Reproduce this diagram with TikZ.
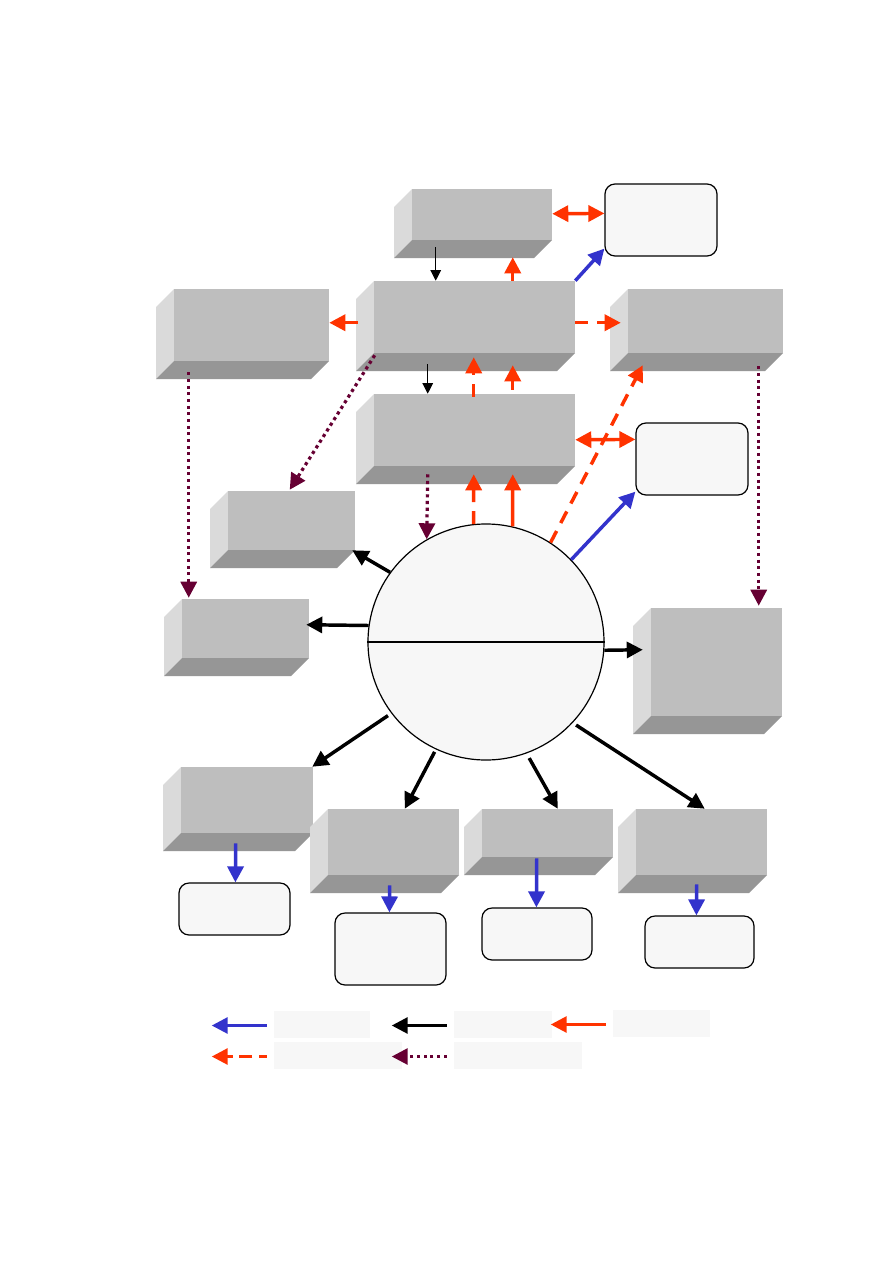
\documentclass[tikz,border=0pt]{standalone}
\usetikzlibrary{arrows.meta,calc,fit}
\definecolor{frontc}{HTML}{BEBEBE}
\definecolor{leftc}{HTML}{DADADA}
\definecolor{botc}{HTML}{969696}
\definecolor{paper}{HTML}{F7F7F7}
\definecolor{blu}{HTML}{3333CC}
\definecolor{rd}{HTML}{FF3300}
\definecolor{pu}{HTML}{660033}
\newcommand{\bevbox}[5]{%
 \fill[leftc] (#2,#3+18) -- (#2+18,#3) -- (#2+18,#5-18) -- (#2,#5) -- cycle;
 \fill[botc] (#2,#5) -- (#2+18,#5-18) -- (#4,#5-18) -- (#4-18,#5) -- cycle;
 \fill[frontc] (#2+18,#3) rectangle (#4,#5-18);
 \coordinate (#1-nw) at (#2,#3); \coordinate (#1-se) at (#4,#5);
 \node[fit=(#1-nw)(#1-se), inner sep=0pt] (#1) {};}
\newcommand{\rbox}[5]{%
 \coordinate (#1-nw) at (#2,#3); \coordinate (#1-se) at (#4,#5);
 \node[fit=(#1-nw)(#1-se), inner sep=0pt, draw=black, line width=0.9pt, fill=paper, rounded corners=7.5pt] (#1) {};}
\newcommand{\legrect}[5]{%
 \coordinate (#1-nw) at (#2,#3); \coordinate (#1-se) at (#4,#5);
 \node[fit=(#1-nw)(#1-se), inner sep=0pt, fill=paper] (#1) {};}
\tikzset{
 bigtip/.style={-{Triangle[length=12pt,width=12pt]}},
 dbltip/.style={{Triangle[length=12pt,width=12pt]}-{Triangle[length=12pt,width=12pt]}},
 thinarr/.style={black, line width=0.8pt, -{Triangle[length=8pt,width=8pt]}},
 blkarr/.style={black, line width=2.6pt, bigtip},
 bluarr/.style={blu, line width=2.6pt, bigtip},
 redarr/.style={rd, line width=2.6pt, bigtip},
 reddbl/.style={rd, line width=2.6pt, dbltip},
 reddash/.style={rd, line width=2.6pt, bigtip, dash pattern=on 9.75pt off 6.75pt},
 purdot/.style={pu, line width=2.4pt, bigtip, dash pattern=on 2.4pt off 2.6pt},
}
\begin{document}
\begin{tikzpicture}[x=0.75pt,y=-0.75pt]
\useasboundingbox[fill=white] (0,0) rectangle (893,1263);
% 3D boxes
\bevbox{b1}{394}{189}{552}{258}
\bevbox{b2}{356}{281}{575}{371}
\bevbox{b3}{156}{289}{329}{379}
\bevbox{b4}{610}{289}{783}{371}
\bevbox{b5}{356}{394}{575}{484}
\bevbox{b6}{210}{491}{355}{568}
\bevbox{b7}{164}{599}{309}{676}
\bevbox{b8}{633}{608}{782}{734}
\bevbox{b9}{163}{767}{313}{851}
\bevbox{b10}{310}{809}{459}{893}
\bevbox{b11}{464}{809}{613}{875}
\bevbox{b12}{618}{809}{767}{893}
% rounded boxes
\rbox{r1}{605}{184}{717}{256}
\rbox{r2}{636}{423}{748}{495}
\rbox{r3}{179}{883}{290}{935}
\rbox{r4}{335}{913}{446}{985}
\rbox{r5}{482}{908}{592}{960}
\rbox{r6}{645}{916}{754}{968}
% circle
\node[circle, draw=black, line width=0.9pt, fill=paper, minimum size=177pt, inner sep=0pt] (c) at (486,642) {};
\draw[black, line width=0.9pt] (c.west) -- (c.east);
% connectors
\draw[thinarr] ($(b1.south west)+(42,-11)$) -- ($(b2.north west)+(80,0)$);
\draw[redarr] ($(b2.north west)+(157,0)$) -- ($(b1.south west)+(119,-1)$);
\draw[reddbl] ($(b1.north east)+(0,25)$) -- ($(r1.north west)+(0,30)$);
\draw[bluarr] (b2.north east) -- ($(r1.south west)+(0,-8)$);
\draw[reddash] ($(b2.north west)+(2,42)$) -- ($(b3.north east)+(0,34)$);
\draw[reddash] ($(b2.north east)+(0,42)$) -- ($(b4.north west)+(11,34)$);
\draw[thinarr] ($(b2.south west)+(72,-7)$) -- ($(b5.north west)+(72,0)$);
\draw[reddash] ($(b5.north west)+(118,3)$) -- ($(b2.south west)+(118,-14)$);
\draw[redarr] ($(b5.north west)+(157,-4)$) -- ($(b2.south west)+(157,-6)$);
\draw[purdot] ($(b2.south west)+(19,-16)$) -- ($(b6.north west)+(80,-1)$);
\draw[reddbl] ($(b5.north east)+(0,46)$) -- ($(r2.north west)+(0,17)$);
\draw[reddash] (c.57) -- ($(b4.south west)+(33,-6)$);
\draw[bluarr] (c.44) -- ($(r2.south west)+(0,-4)$);
\draw[purdot] ($(b5.south west)+(72,-10)$) -- (c.120);
\draw[reddash] (c.96) -- ($(b5.south west)+(118,-10)$);
\draw[redarr] (c.77) -- ($(b5.south west)+(157,-10)$);
\draw[blkarr] (c.144) -- ($(b6.south east)+(-3,-18)$);
\draw[blkarr] (c.172) -- ($(b7.north east)+(-3,26)$);
\draw[blkarr] (c.356) -- ($(b8.north west)+(10,42)$);
\draw[purdot] ($(b3.south west)+(33,-7)$) -- ($(b7.north west)+(25,-1)$);
\draw[purdot] ($(b4.south west)+(149,-5)$) -- ($(b8.north west)+(126,-2)$);
\draw[blkarr, shorten <=3pt] (c.217) -- ($(b9.north east)+(-1,0)$);
\draw[blkarr, shorten <=2pt] (c.245) -- ($(b10.north west)+(95,0)$);
\draw[blkarr, shorten <=4pt] (c.290) -- ($(b11.north west)+(94,0)$);
\draw[blkarr, shorten <=3pt] (c.317) -- ($(b12.north west)+(87,0)$);
\draw[bluarr] ($(b9.south west)+(73,-8)$) -- ($(r3.north west)+(57,0)$);
\draw[bluarr] ($(b10.south west)+(80,-8)$) -- ($(r4.north west)+(55,0)$);
\draw[bluarr] ($(b11.south west)+(73,-17)$) -- ($(r5.north west)+(55,0)$);
\draw[bluarr] ($(b12.south west)+(79,-9)$) -- ($(r6.north west)+(52,0)$);
% legend
\legrect{lg1}{274}{1011}{370}{1038}
\legrect{lg2}{454}{1011}{552}{1038}
\legrect{lg3}{613}{1010}{710}{1037}
\legrect{lg4}{274}{1042}{402}{1069}
\legrect{lg5}{454}{1042}{582}{1069}
\coordinate (t1) at ($(lg1.west)+(-62,1)$);
\coordinate (t2) at ($(lg2.west)+(-62,1)$);
\coordinate (t3) at ($(lg3.west)+(-62,1)$);
\coordinate (t4) at ($(lg4.west)+(-62,1)$);
\coordinate (t5) at ($(lg5.west)+(-62,1)$);
\draw[bluarr, line width=2.2pt] ($(lg1.west)+(-7,1)$) -- (t1);
\draw[blkarr, line width=2.2pt] ($(lg2.west)+(-7,1)$) -- (t2);
\draw[redarr, line width=2.2pt] ($(lg3.west)+(-7,1)$) -- (t3);
\draw[reddash, line width=2.2pt, dash pattern=on 9.75pt off 5pt, dash phase=4pt] ($(lg4.west)+(-7,1)$) -- (t4);
\draw[purdot, line width=2.2pt] ($(lg5.west)+(-7,1)$) -- (t5);
\end{tikzpicture}
\end{document}
